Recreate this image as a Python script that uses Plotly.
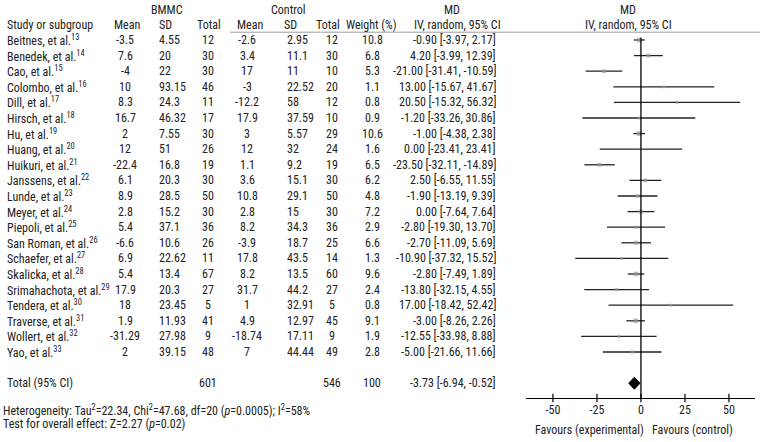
import plotly.graph_objects as go

# ---------------- data ----------------
studies = ["Beitnes", "Benedek", "Cao", "Colombo", "Dill", "Hirsch", "Hu", "Huang",
           "Huikuri", "Janssens", "Lunde", "Meyer", "Piepoli", "San Roman", "Schaefer",
           "Skalicka", "Srimahachota", "Tendera", "Traverse", "Wollert", "Yao"]
refs = [13, 14, 15, 16, 17, 18, 19, 20, 21, 22, 23, 24, 25, 26, 27, 28, 29, 30, 31, 32, 33]

bmmc_mean = ["-3.5", "7.6", "-4", "10", "8.3", "16.7", "2", "12", "-22.4", "6.1", "8.9", "2.8",
             "5.4", "-6.6", "6.9", "5.4", "17.9", "18", "1.9", "-31.29", "2"]
bmmc_sd = ["4.55", "20", "22", "93.15", "24.3", "46.32", "7.55", "51", "16.8", "20.3", "28.5",
           "15.2", "37.1", "10.6", "22.62", "13.4", "20.3", "23.45", "11.93", "27.98", "39.15"]
bmmc_total = [12, 30, 30, 46, 11, 17, 30, 26, 19, 30, 50, 30, 36, 26, 11, 67, 27, 5, 41, 9, 48]

ctrl_mean = ["-2.6", "3.4", "17", "-3", "-12.2", "17.9", "3", "12", "1.1", "3.6", "10.8", "2.8",
             "8.2", "-3.9", "17.8", "8.2", "31.7", "1", "4.9", "-18.74", "7"]
ctrl_sd = ["2.95", "11.1", "11", "22.52", "58", "37.59", "5.57", "32", "9.2", "15.1", "29.1",
           "15", "34.3", "18.7", "43.5", "13.5", "44.2", "32.91", "12.97", "17.11", "44.44"]
ctrl_total = [12, 30, 10, 20, 12, 10, 29, 24, 19, 30, 50, 30, 36, 25, 14, 60, 27, 5, 45, 9, 49]

weight = [10.8, 6.8, 5.3, 1.1, 0.8, 0.9, 10.6, 1.6, 6.5, 6.2, 4.8, 7.2, 2.9, 6.6, 1.3, 9.6,
          2.4, 0.8, 9.1, 1.9, 2.8]
md = [-0.90, 4.20, -21.00, 13.00, 20.50, -1.20, -1.00, 0.00, -23.50, 2.50, -1.90, 0.00,
      -2.80, -2.70, -10.90, -2.80, -13.80, 17.00, -3.00, -12.55, -5.00]
ci_lo = [-3.97, -3.99, -31.41, -15.67, -15.32, -33.26, -4.38, -23.41, -32.11, -6.55, -13.19,
         -7.64, -19.30, -11.09, -37.32, -7.49, -32.15, -18.42, -8.26, -33.98, -21.66]
ci_hi = [2.17, 12.39, -10.59, 41.67, 56.32, 30.86, 2.38, 23.41, -14.89, 11.55, 9.39, 7.64,
         13.70, 5.69, 15.52, 1.89, 4.55, 52.42, 2.26, 8.88, 11.66]

total_bmmc = 601
total_ctrl = 546
total_weight = 100
total_md, total_lo, total_hi = -3.73, -6.94, -0.52

axis_ticks = [-50, -25, 0, 25, 50]

heterogeneity = ("Heterogeneity: Tau<sup>2</sup>=22.34, Chi<sup>2</sup>=47.68, df=20 "
                 "(<i>p</i>=0.0005); I<sup>2</sup>=58%")
overall = "Test for overall effect: Z=2.27 (<i>p</i>=0.02)"

# ---------------- layout helpers ----------------
W, H = 760, 442
FONT = "Roboto Condensed, DejaVu Sans Condensed, sans-serif"
TXT = "#222222"
FS = 12

rows = list(range(len(studies)))
total_row = len(studies) + 1          # 22
axis_row = 22.95
hdr1, hdr2 = -1.92, -0.96


def px(x):
    return x / W


fig = go.Figure()

# CI lines
lx, ly = [], []
for i, (lo, hi) in enumerate(zip(ci_lo, ci_hi)):
    lx += [lo, hi, None]
    ly += [i, i, None]
fig.add_trace(go.Scatter(x=lx, y=ly, mode="lines", line=dict(color="#222222", width=1.3),
                         hoverinfo="skip", showlegend=False))

# squares
fig.add_trace(go.Scatter(x=md, y=rows, mode="markers",
                         marker=dict(symbol="square", color="#9a9a9a",
                                     size=[2.6 + w * 0.2 for w in weight], line=dict(width=0)),
                         showlegend=False))

# diamond
dh = 0.385
fig.add_trace(go.Scatter(x=[total_lo, total_md, total_hi, total_md, total_lo],
                         y=[total_row, total_row - dh, total_row, total_row + dh, total_row],
                         mode="lines", fill="toself", fillcolor="black",
                         line=dict(color="black", width=1), showlegend=False))

# tick marks crossing the axis
fig.add_trace(go.Scatter(x=axis_ticks, y=[axis_row] * len(axis_ticks), mode="markers",
                         marker=dict(symbol="line-ns", size=6,
                                     line=dict(color="black", width=1.2)),
                         showlegend=False, hoverinfo="skip"))

shapes = [
    dict(type="line", xref="x", yref="y", x0=0, x1=0, y0=-0.15, y1=axis_row,
         line=dict(color="black", width=1.3)),
    dict(type="line", xref="paper", yref="y", x0=px(230), x1=1, y0=-0.5, y1=-0.5,
         line=dict(color="#9a9a9a", width=1)),
]

ann = []


def add(text, x, y, anchor="center", size=FS):
    ann.append(dict(text=text, x=px(x), y=y, xref="paper", yref="y", xanchor=anchor,
                    yanchor="middle", showarrow=False, font=dict(size=size, color=TXT, family=FONT)))


# headers
add("BMMC", 167, hdr1)
add("Control", 288, hdr1)
add("MD", 452, hdr1)
add("MD", 628, hdr1)
add("Study or subgroup", 5, hdr2, "left")
add("Mean", 127, hdr2)
add("SD", 165, hdr2)
add("Total", 209, hdr2)
add("Mean", 250, hdr2)
add("SD", 290, hdr2)
add("Total", 328, hdr2)
add("Weight (%)", 371, hdr2)
add("IV, random, 95% CI", 457, hdr2)
add("IV, random, 95% CI", 628, hdr2)

for i in rows:
    add(f"{studies[i]}, et al.<sup>{refs[i]}</sup>", 5, i, "left")
    add(bmmc_mean[i], 125, i)
    add(bmmc_sd[i], 157, i, "left")
    add(str(bmmc_total[i]), 208, i)
    add(ctrl_mean[i], 247, i)
    add(ctrl_sd[i], 285, i, "left")
    add(str(ctrl_total[i]), 332, i)
    add(f"{weight[i]:.1f}", 372, i)
    add(f"{md[i]:.2f} [{ci_lo[i]:.2f}, {ci_hi[i]:.2f}]", 498, i, "right")

add("Total (95% CI)", 5, total_row, "left")
add(str(total_bmmc), 208, total_row)
add(str(total_ctrl), 332, total_row)
add(str(total_weight), 372, total_row)
add(f"{total_md:.2f} [{total_lo:.2f}, {total_hi:.2f}]", 498, total_row, "right")

add(heterogeneity, 1, 23.72, "left")
add(overall, 1, 24.62, "left")

add("Favours (experimental)", 589, 25.0)
add("Favours (control)", 692, 25.0)

fig.update_layout(
    width=W, height=H,
    margin=dict(l=0, r=0, t=0, b=0),
    paper_bgcolor="white", plot_bgcolor="rgba(0,0,0,0)",
    font=dict(family=FONT, size=FS, color=TXT),
    xaxis=dict(domain=[px(526), px(755)], range=[-65.3, 64.8], anchor="free",
               position=1 - 398 / H, showline=True, linecolor="black", linewidth=1.3,
               tickvals=axis_ticks, ticktext=[str(t) for t in axis_ticks],
               ticks="", showgrid=False, zeroline=False,
               tickfont=dict(family=FONT, size=FS, color=TXT)),
    yaxis=dict(domain=[0, 1], range=[(H - 40) / 15.6, -40 / 15.6], visible=False,
               showgrid=False, zeroline=False),
    shapes=shapes,
    annotations=ann,
    showlegend=False,
)

fig.write_html("out.html", config={"displayModeBar": False},
               post_script="document.body.style.margin='0px';")
